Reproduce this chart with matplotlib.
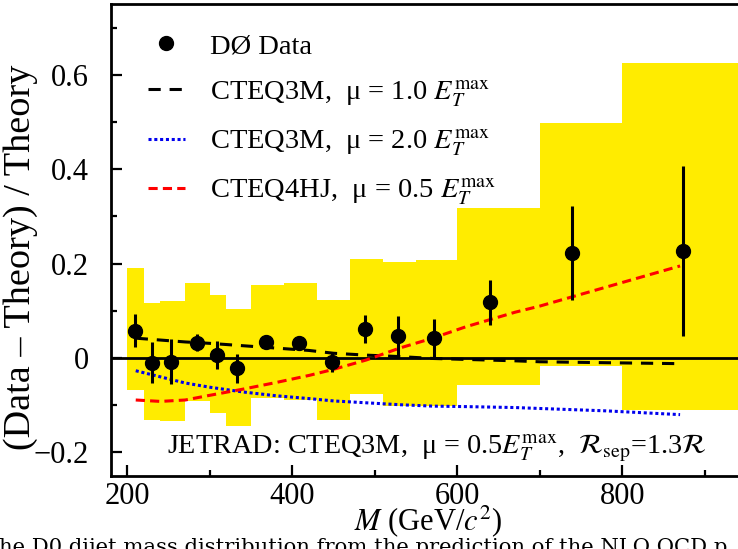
import numpy as np
import matplotlib
matplotlib.use("Agg")
from matplotlib import pyplot as plt
from matplotlib.lines import Line2D

plt.rcParams['font.family'] = ['Liberation Serif', 'DejaVu Serif']
plt.rcParams['mathtext.fontset'] = 'stix'

# D0 data: (Data - Theory)/Theory vs dijet mass
mass = [209, 230, 253, 284, 309, 333, 368, 408, 448, 488, 528, 572, 639, 739, 873]
ratio = [0.058, -0.010, -0.008, 0.032, 0.006, -0.022, 0.034, 0.031,
         -0.009, 0.062, 0.046, 0.042, 0.118, 0.222, 0.227]
stat_err = [0.035, 0.043, 0.048, 0.018, 0.030, 0.031, 0.010, 0.010,
            0.021, 0.030, 0.042, 0.040, 0.048, 0.100, 0.180]

# systematic error band (step per mass bin)
bin_edges = [200, 220, 240, 270, 300, 320, 350, 390, 430, 470, 510, 550, 600, 700, 800, 1000]
sys_hi = [0.190, 0.116, 0.120, 0.159, 0.134, 0.104, 0.155, 0.159,
          0.123, 0.210, 0.204, 0.208, 0.318, 0.498, 0.626]
sys_lo = [-0.067, -0.131, -0.134, -0.092, -0.117, -0.145, -0.085, -0.089,
          -0.131, -0.076, -0.101, -0.101, -0.057, -0.018, -0.111]

# theory curves relative to JETRAD CTEQ3M mu=0.5
curve_m = [210, 240, 270, 300, 340, 380, 420, 450, 490, 530, 570, 610, 670, 700, 780, 870]
cteq3m_mu10 = [0.042, 0.038, 0.034, 0.031, 0.026, 0.021, 0.016, 0.010, 0.006, 0.003,
               -0.001, -0.003, -0.006, -0.008, -0.010, -0.012]
cteq3m_mu20 = [-0.027, -0.040, -0.053, -0.062, -0.072, -0.080, -0.086, -0.091, -0.095, -0.099,
               -0.102, -0.103, -0.105, -0.107, -0.112, -0.120]
cteq4hj_mu05 = [-0.089, -0.092, -0.089, -0.079, -0.066, -0.052, -0.037, -0.024, -0.004, 0.021,
                0.042, 0.066, 0.097, 0.110, 0.150, 0.195]

fig = plt.figure(figsize=(7.38, 5.49), dpi=100)
ax = fig.add_axes([0.1504, 0.133, 0.8717, 0.8597])

ax.stairs(sys_hi, bin_edges, baseline=sys_lo, fill=True, color='#ffec00', lw=0, zorder=1)
ax.axhline(0, color='black', lw=2, zorder=2)

ax.plot(curve_m, cteq3m_mu10, color='black', lw=2.2, dashes=(4, 2.9), zorder=3,
        label=r'CTEQ3M,  μ = 1.0 $E_T^{\mathrm{max}}$')
ax.plot(curve_m, cteq3m_mu20, color='#0000ee', lw=2.2, dashes=(1, 0.9), zorder=3,
        label=r'CTEQ3M,  μ = 2.0 $E_T^{\mathrm{max}}$')
ax.plot(curve_m, cteq4hj_mu05, color='#ff0000', lw=2.2, dashes=(3, 1.7), zorder=3,
        label=r'CTEQ4HJ,  μ = 0.5 $E_T^{\mathrm{max}}$')
ax.errorbar(mass, ratio, yerr=stat_err, fmt='o', color='black', ms=10,
            elinewidth=2.2, capsize=0, zorder=4)

handles, labels = ax.get_legend_handles_labels()
dot = Line2D([], [], ls='none', marker='o', color='black', ms=10)
ax.legend([dot] + handles, ['DØ Data'] + labels, loc='upper left',
          bbox_to_anchor=(0.0575, 0.938), frameon=False, fontsize=20.5,
          handlelength=1.3, handletextpad=0.88, labelspacing=0.66,
          borderaxespad=0, borderpad=0)

ax.text(0.087, 0.0487, r'JETRAD: CTEQ3M,  μ = 0.5$E_T^{\mathrm{max}}$,  $\mathcal{R}_{\mathrm{sep}}$=1.3$\mathcal{R}$',
        transform=ax.transAxes, fontsize=20.3, va='baseline')

ax.set_xlim(180, 960)
ax.set_ylim(-0.25, 0.75)
ax.set_xticks([200, 400, 600, 800])
ax.set_xticks([300, 500, 700, 900], minor=True)
ax.set_yticks([-0.2, 0, 0.2, 0.4, 0.6])
ax.set_yticklabels(['\u22120.2', '0', '0.2', '0.4', '0.6'])
ax.set_yticks([-0.1, 0.1, 0.3, 0.5, 0.7], minor=True)
ax.tick_params(which='both', direction='in', labelsize=22, width=1.6)
ax.tick_params(which='major', length=8)
ax.tick_params(which='minor', length=4)
ax.tick_params(axis='x', which='major', pad=4)
ax.tick_params(axis='y', which='major', pad=16)
for s in ax.spines.values():
    s.set_linewidth(2)

ax.set_ylabel('(Data \u2013 Theory) / Theory', fontsize=27.5)
ax.yaxis.set_label_coords(-0.1135, 0.464)
ax.set_xlabel(r'$M$ (GeV/$c^2$)', fontsize=22)
ax.xaxis.set_label_coords(0.493, -0.058)

fig.text(-0.002, -0.008, 'he D0 dijet mass distribution from the prediction of the NLO QCD p',
         fontsize=15.2, va='baseline', ha='left', family='DejaVu Serif')

fig.savefig('out.png', dpi=100)
